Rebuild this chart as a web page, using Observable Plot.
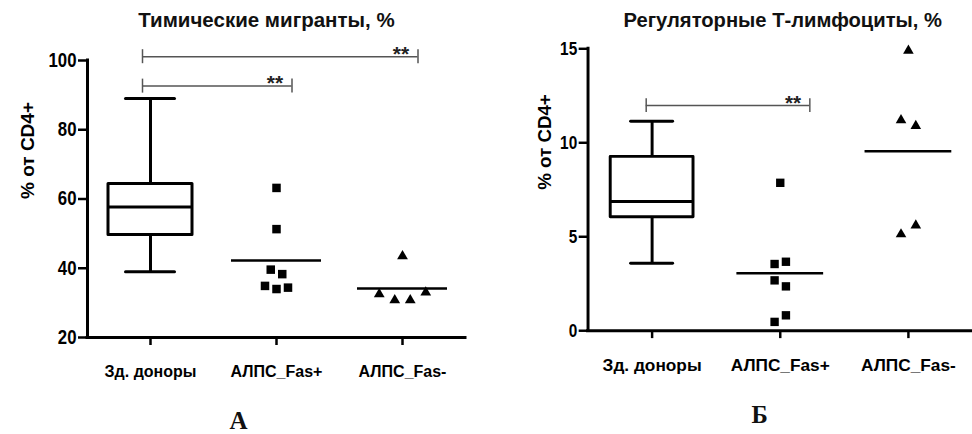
<!DOCTYPE html>
<html><head><meta charset="utf-8">
<script src="https://cdn.jsdelivr.net/npm/d3@7"></script>
<script src="https://cdn.jsdelivr.net/npm/@observablehq/plot@0.6"></script>
<style>
body{margin:0;background:#fff;}
#wrap{display:flex;width:972px;height:434px;overflow:hidden;background:#fff;}
.panel{width:486px;height:434px;overflow:hidden;flex:none;}
</style></head><body>
<div id="wrap"><div class="panel" id="pA"></div><div class="panel" id="pB"></div></div>
<script>
// ---------- data ----------
const groups = ["Зд. доноры", "АЛПС_Fas+", "АЛПС_Fas-"];
const yLabel = "% от CD4+";

// Panel A
const titleA = "Тимические мигранты, %";
const letterA = "А";
const yTicksA = [20, 40, 60, 80, 100];
const yDomainA = [20, 100];
const donorsBoxA = [39, 49.6, 57.7, 64.3, 89];          // min, q1, median, q3, max
const fasPlusA = [63.2, 51.3, 39.6, 38.3, 34.9, 34.0, 34.4];
const fasMinusA = [43.5, 32.5, 30.8, 30.8, 33.0];
const bracketFromA = [0, 0];
const bracketToA = [2, 1];
const bracketYA = [101.1, 92.6];
const bracketLabelA = ["**", "**"];

// Panel B
const titleB = "Регуляторные Т-лимфоциты, %";
const letterB = "Б";
const yTicksB = [0, 5, 10, 15];
const yDomainB = [0, 15];
const donorsBoxB = [3.59, 6.04, 6.88, 9.25, 11.15];
const fasPlusB = [7.87, 3.55, 3.67, 2.68, 2.36, 0.47, 0.82];
const fasMinusB = [14.9, 11.2, 10.9, 5.13, 5.6];
const bracketFromB = [0];
const bracketToB = [1];
const bracketYB = [11.98];
const bracketLabelB = ["**"];

// ---------- drawing ----------
function columnScatter(values, gi, symbol, spacingPx, ppu, unitPx, thrPx) {
  const order = d3.range(values.length).sort((a, b) => values[b] - values[a]);
  const row = new Array(values.length);
  let r = -1, start = null;
  for (const k of order) {
    if (start === null || (start - values[k]) * ppu >= thrPx) { r++; start = values[k]; }
    row[k] = r;
  }
  const pts = [];
  for (let rr = 0; rr <= r; rr++) {
    const members = d3.range(values.length).filter(k => row[k] === rr);
    members.forEach((k, j) => pts.push({x: gi + (j - (members.length - 1) / 2) * spacingPx / unitPx, v: values[k], symbol}));
  }
  return pts;
}

function panel(cfg) {
  const {width, height, ml, mr, mt, mb, yDomain, yTicks, box, plus, minus,
         bFrom, bTo, bY, bLabel, bDx, title, titleDx, titleDy, letter, letterDx, letterDy,
         ylabDx, capHalf, meanHalf, triSpacing, xFont} = cfg;
  const unitPx = (width - ml - mr) / 3;
  const ppu = (height - mt - mb) / (yDomain[1] - yDomain[0]);
  const u = px => px / unitPx;
  const boxRow = [{i: 0, min: box[0], q1: box[1], med: box[2], q3: box[3], max: box[4]}];
  const bw = u(42);
  const pts = [
    ...columnScatter(plus, 1, "square", 11.5, ppu, unitPx, 10.5),
    ...columnScatter(minus, 2, "triangle", triSpacing, ppu, unitPx, 10.5)
  ];
  const means = [{i: 1, v: d3.mean(plus)}, {i: 2, v: d3.mean(minus)}];
  const brackets = bFrom.map((f, k) => ({x1: f + u(bDx[0]), x2: bTo[k] + u(bDx[1]), y: bY[k], label: bLabel[k]}));
  const blk = "#000";
  return Plot.plot({
    width, height, marginLeft: ml, marginRight: mr, marginTop: mt, marginBottom: mb,
    style: {fontFamily: "'Liberation Sans', Arial, sans-serif", background: "white", color: "black", overflow: "visible"},
    x: {domain: [-0.5, 2.5], axis: null},
    y: {domain: yDomain, axis: null, label: null},
    marks: [
      // axes
      Plot.ruleY([yDomain[0]], {stroke: blk, strokeWidth: 3, strokeLinecap: "square"}),
      Plot.ruleX([-0.5], {stroke: blk, strokeWidth: 3, strokeLinecap: "square"}),
      Plot.axisY({ticks: yTicks, tickSize: 9, tickPadding: 2, strokeWidth: 2.5, fontSize: 19.5, fontWeight: "bold", label: null}),
      Plot.axisX({ticks: [0, 1, 2], tickFormat: i => groups[i], tickSize: 8, tickPadding: 20, strokeWidth: 2.5, fontSize: xFont, fontWeight: "bold", label: null}),
      // box plot (min/max whiskers)
      Plot.ruleX(boxRow, {x: "i", y1: "q3", y2: "max", stroke: blk, strokeWidth: 3}),
      Plot.ruleX(boxRow, {x: "i", y1: "min", y2: "q1", stroke: blk, strokeWidth: 3}),
      Plot.ruleY(boxRow, {y: "max", x1: d => d.i - u(capHalf), x2: d => d.i + u(capHalf), stroke: blk, strokeWidth: 3, strokeLinecap: "round"}),
      Plot.ruleY(boxRow, {y: "min", x1: d => d.i - u(capHalf), x2: d => d.i + u(capHalf), stroke: blk, strokeWidth: 3, strokeLinecap: "round"}),
      Plot.rect(boxRow, {x1: d => d.i - bw, x2: d => d.i + bw, y1: "q1", y2: "q3", fill: "white", stroke: blk, strokeWidth: 3, strokeLinejoin: "round"}),
      Plot.ruleY(boxRow, {y: "med", x1: d => d.i - bw, x2: d => d.i + bw, stroke: blk, strokeWidth: 3}),
      // mean lines
      Plot.ruleY(means, {y: "v", x1: d => d.i - u(meanHalf), x2: d => d.i + u(meanHalf), stroke: blk, strokeWidth: 2.5}),
      // points
      Plot.dot(pts.filter(d => d.symbol === "square"), {x: "x", y: "v", symbol: "square", r: 4.8, fill: blk, stroke: "none"}),
      Plot.dot(pts.filter(d => d.symbol === "triangle"), {x: "x", y: "v", symbol: "triangle", r: 4, fill: blk, stroke: "none"}),
      // significance brackets
      Plot.ruleY(brackets, {y: "y", x1: "x1", x2: "x2", stroke: "#555", strokeWidth: 1.5}),
      Plot.ruleX(brackets, {x: "x1", y1: "y", y2: "y", insetTop: -7, insetBottom: -7, stroke: "#555", strokeWidth: 1.5}),
      Plot.ruleX(brackets, {x: "x2", y1: "y", y2: "y", insetTop: -7, insetBottom: -7, stroke: "#555", strokeWidth: 1.5}),
      Plot.text(brackets, {x: "x2", y: "y", text: "label", dx: -17, dy: 4, lineAnchor: "bottom", fontSize: 21, fontWeight: "bold", fill: "#222"}),
      // titles
      Plot.text([title], {frameAnchor: "top", dx: titleDx, dy: titleDy, lineAnchor: "bottom", fontSize: 20.5, fontWeight: "bold", fill: "#111", ariaLabel: "title"}),
      Plot.text([yLabel], {frameAnchor: "left", rotate: -90, dx: ylabDx, lineAnchor: "bottom", fontSize: 19, fontWeight: "bold", fill: blk, ariaLabel: "ylabel"}),
      Plot.text([letter], {frameAnchor: "bottom", dx: letterDx, dy: letterDy, lineAnchor: "bottom", fontSize: 25, fontWeight: "bold", fontFamily: "'Liberation Serif', 'Times New Roman', serif", fill: "#111"})
    ]
  });
}

// squeeze texts horizontally (the reference lettering is taller than it is wide)
function fitText(svg, selector, opts) {
  d3.select(svg).selectAll(selector).each(function () {
    const len = opts.length != null ? opts.length : this.getComputedTextLength() * opts.factor;
    d3.select(this).attr("textLength", len).attr("lengthAdjust", "spacingAndGlyphs");
  });
}

const cfgA = {
  width: 486, height: 434, ml: 87, mr: 21, mt: 60, mb: 97,
  yDomain: yDomainA, yTicks: yTicksA, box: donorsBoxA, plus: fasPlusA, minus: fasMinusA,
  bFrom: bracketFromA, bTo: bracketToA, bY: bracketYA, bLabel: bracketLabelA, bDx: [-8, 15.5],
  title: titleA, titleDx: -10, titleDy: -33.5, letter: letterA, letterDx: -38, letterDy: 91.5,
  ylabDx: -54, capHalf: 24.5, meanHalf: 45, triSpacing: 15.5, xFont: 16
};
const cfgB = {
  width: 493, height: 434, ml: 103, mr: 0, mt: 49, mb: 99,
  yDomain: yDomainB, yTicks: yTicksB, box: donorsBoxB, plus: fasPlusB, minus: fasMinusB,
  bFrom: bracketFromB, bTo: bracketToB, bY: bracketYB, bLabel: bracketLabelB, bDx: [-6, 30],
  title: titleB, titleDx: 2.5, titleDy: -22.3, letter: letterB, letterDx: -21, letterDy: 93.5,
  ylabDx: -38, capHalf: 21.3, meanHalf: 44, triSpacing: 15, xFont: 17.5
};
const svgA = panel(cfgA), svgB = panel(cfgB);
document.getElementById("pA").appendChild(svgA);
document.getElementById("pB").appendChild(svgB);

fitText(svgA, 'g[aria-label="title"] text', {length: 242});
fitText(svgB, 'g[aria-label="title"] text', {length: 303});
fitText(svgA, 'g[aria-label="ylabel"] text', {length: 117});
fitText(svgB, 'g[aria-label="ylabel"] text', {length: 122});
fitText(svgA, 'g[aria-label="y-axis tick label"] text', {factor: 0.86});
fitText(svgB, 'g[aria-label="y-axis tick label"] text', {factor: 0.8});
</script>
</body></html>
